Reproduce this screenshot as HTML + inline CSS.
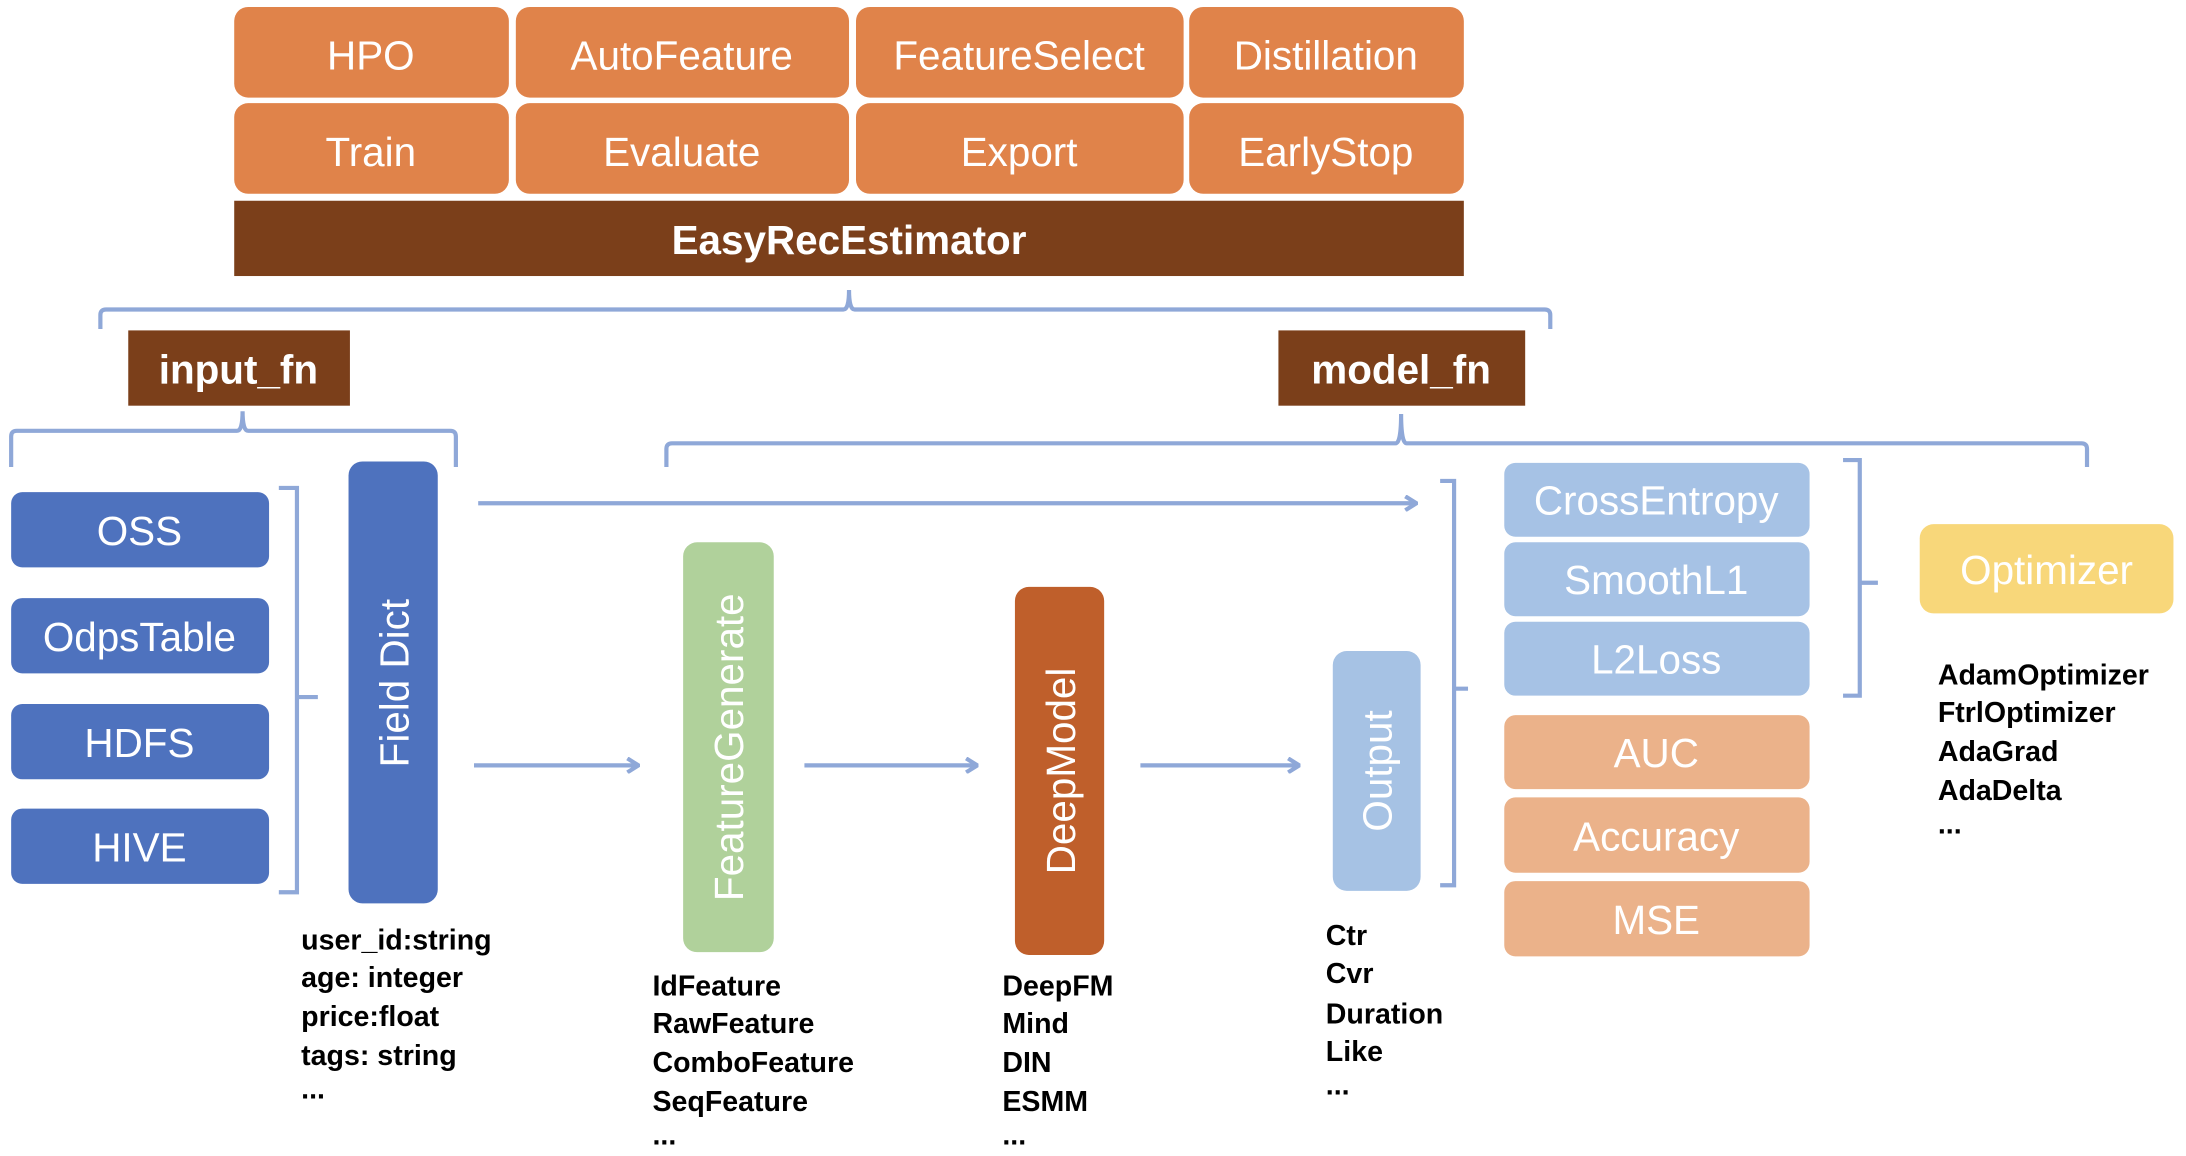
<!DOCTYPE html>
<html><head><meta charset="utf-8"><style>
html,body{margin:0;padding:0;background:#fff;}
svg{display:block;}
text{font-family:"Liberation Sans",sans-serif;}
.bt{fill:#fff;font-size:29px;text-anchor:middle;dominant-baseline:central;}
.lb{fill:#000;font-size:20.5px;font-weight:bold;}
.br{fill:none;stroke:#8FA8D8;stroke-width:3;}
</style></head><body>
<svg width="2186" height="1156" viewBox="0 0 1568 829.2" preserveAspectRatio="none" xmlns="http://www.w3.org/2000/svg">
<defs><marker id="ah" markerWidth="10" markerHeight="12" refX="9" refY="6" orient="auto" markerUnits="userSpaceOnUse"><path d="M1,1 L9,6 L1,11" fill="none" stroke="#8FA8D8" stroke-width="3"/></marker></defs>
<!-- top boxes -->
<g fill="#E0834A">
<rect x="168" y="5" width="197" height="65" rx="10"/><rect x="370" y="5" width="239" height="65" rx="10"/>
<rect x="614" y="5" width="235" height="65" rx="10"/><rect x="853" y="5" width="197" height="65" rx="10"/>
<rect x="168" y="74" width="197" height="65" rx="10"/><rect x="370" y="74" width="239" height="65" rx="10"/>
<rect x="614" y="74" width="235" height="65" rx="10"/><rect x="853" y="74" width="197" height="65" rx="10"/>
</g>
<text class="bt" x="266" y="40">HPO</text><text class="bt" x="489" y="40">AutoFeature</text>
<text class="bt" x="731" y="40">FeatureSelect</text><text class="bt" x="951" y="40">Distillation</text>
<text class="bt" x="266" y="109">Train</text><text class="bt" x="489" y="109">Evaluate</text>
<text class="bt" x="731" y="109">Export</text><text class="bt" x="951" y="109">EarlyStop</text>
<rect x="168" y="144" width="882" height="54" fill="#7B3F1A"/>
<text class="bt" x="609" y="172" font-weight="bold" font-size="30">EasyRecEstimator</text>
<!-- top brace -->
<path class="br" d="M72,236 V226 Q72,222 76,222 H605 Q609,222 609,208 Q609,222 613,222 H1108 Q1112,222 1112,226 V236"/>
<rect x="92" y="237" width="159" height="54" fill="#7B3F1A"/>
<text class="bt" x="171" y="265" font-weight="bold" font-size="31">input_fn</text>
<rect x="917" y="237" width="177" height="54" fill="#7B3F1A"/>
<text class="bt" x="1005" y="265" font-weight="bold" font-size="31">model_fn</text>
<path class="br" d="M8,335 V313 Q8,309 12,309 H170 Q174,309 174,295 Q174,309 178,309 H323 Q327,309 327,313 V335"/>
<path class="br" d="M478,335 V322 Q478,318 482,318 H1001 Q1005,318 1005,297 Q1005,318 1009,318 H1493 Q1497,318 1497,322 V335"/>
<!-- left sources -->
<g fill="#4E72BE">
<rect x="8" y="353" width="185" height="54" rx="8"/><rect x="8" y="429" width="185" height="54" rx="8"/>
<rect x="8" y="505" width="185" height="54" rx="8"/><rect x="8" y="580" width="185" height="54" rx="8"/>
<rect x="250" y="331" width="64" height="317" rx="10"/>
</g>
<text class="bt" x="100" y="381">OSS</text><text class="bt" x="100" y="457">OdpsTable</text>
<text class="bt" x="100" y="533">HDFS</text><text class="bt" x="100" y="608">HIVE</text>
<text class="bt" transform="translate(283,490) rotate(-90)" x="0" y="0" font-size="30">Field Dict</text>
<path class="br" d="M200,350 H213 V640 H200 M213,500 H228"/>
<!-- arrows -->
<g class="br" marker-end="url(#ah)">
<line x1="343" y1="361" x2="1016" y2="361"/>
<line x1="340" y1="549" x2="458" y2="549"/>
<line x1="577" y1="549" x2="701" y2="549"/>
<line x1="818" y1="549" x2="932" y2="549"/>
</g>
<rect x="490" y="389" width="65" height="294" rx="10" fill="#B0D19B"/>
<text class="bt" transform="translate(523,536) rotate(-90)" font-size="30">FeatureGenerate</text>
<rect x="728" y="421" width="64" height="264" rx="10" fill="#BF5F2B"/>
<text class="bt" transform="translate(761,553) rotate(-90)" font-size="30">DeepModel</text>
<rect x="956" y="467" width="63" height="172" rx="10" fill="#A6C2E4"/>
<text class="bt" transform="translate(988,553) rotate(-90)" font-size="30">Output</text>
<path class="br" d="M1033,345 H1043 V635 H1033 M1043,494 H1053"/>
<!-- losses -->
<g fill="#A6C2E5">
<rect x="1079" y="332" width="219" height="53" rx="8"/><rect x="1079" y="389" width="219" height="53" rx="8"/>
<rect x="1079" y="446" width="219" height="53" rx="8"/></g>
<g fill="#EBB28A">
<rect x="1079" y="513" width="219" height="53" rx="8"/><rect x="1079" y="572" width="219" height="54" rx="8"/>
<rect x="1079" y="632" width="219" height="54" rx="8"/></g>
<text class="bt" x="1188" y="359">CrossEntropy</text><text class="bt" x="1188" y="416">SmoothL1</text>
<text class="bt" x="1188" y="473">L2Loss</text><text class="bt" x="1188" y="540">AUC</text>
<text class="bt" x="1188" y="600">Accuracy</text><text class="bt" x="1188" y="660">MSE</text>
<path class="br" d="M1322,330 H1334 V499 H1322 M1334,418 H1347"/>
<rect x="1377" y="376" width="182" height="64" rx="10" fill="#F8D77A"/>
<text class="bt" x="1468" y="409" font-size="34">Optimizer</text>
<!-- labels -->
<text class="lb" x="216" y="681">user_id:string</text><text class="lb" x="216" y="708">age: integer</text>
<text class="lb" x="216" y="736">price:float</text><text class="lb" x="216" y="764">tags: string</text><text class="lb" x="216" y="788">...</text>
<text class="lb" x="468" y="714">IdFeature</text><text class="lb" x="468" y="741">RawFeature</text>
<text class="lb" x="468" y="769">ComboFeature</text><text class="lb" x="468" y="797">SeqFeature</text><text class="lb" x="468" y="821">...</text>
<text class="lb" x="719" y="714">DeepFM</text><text class="lb" x="719" y="741">Mind</text>
<text class="lb" x="719" y="769">DIN</text><text class="lb" x="719" y="797">ESMM</text><text class="lb" x="719" y="821">...</text>
<text class="lb" x="951" y="678">Ctr</text><text class="lb" x="951" y="705">Cvr</text>
<text class="lb" x="951" y="734">Duration</text><text class="lb" x="951" y="761">Like</text><text class="lb" x="951" y="785">...</text>
<text class="lb" x="1390" y="491">AdamOptimizer</text><text class="lb" x="1390" y="518">FtrlOptimizer</text>
<text class="lb" x="1390" y="546">AdaGrad</text><text class="lb" x="1390" y="574">AdaDelta</text><text class="lb" x="1390" y="598">...</text>
</svg>
</body></html>
